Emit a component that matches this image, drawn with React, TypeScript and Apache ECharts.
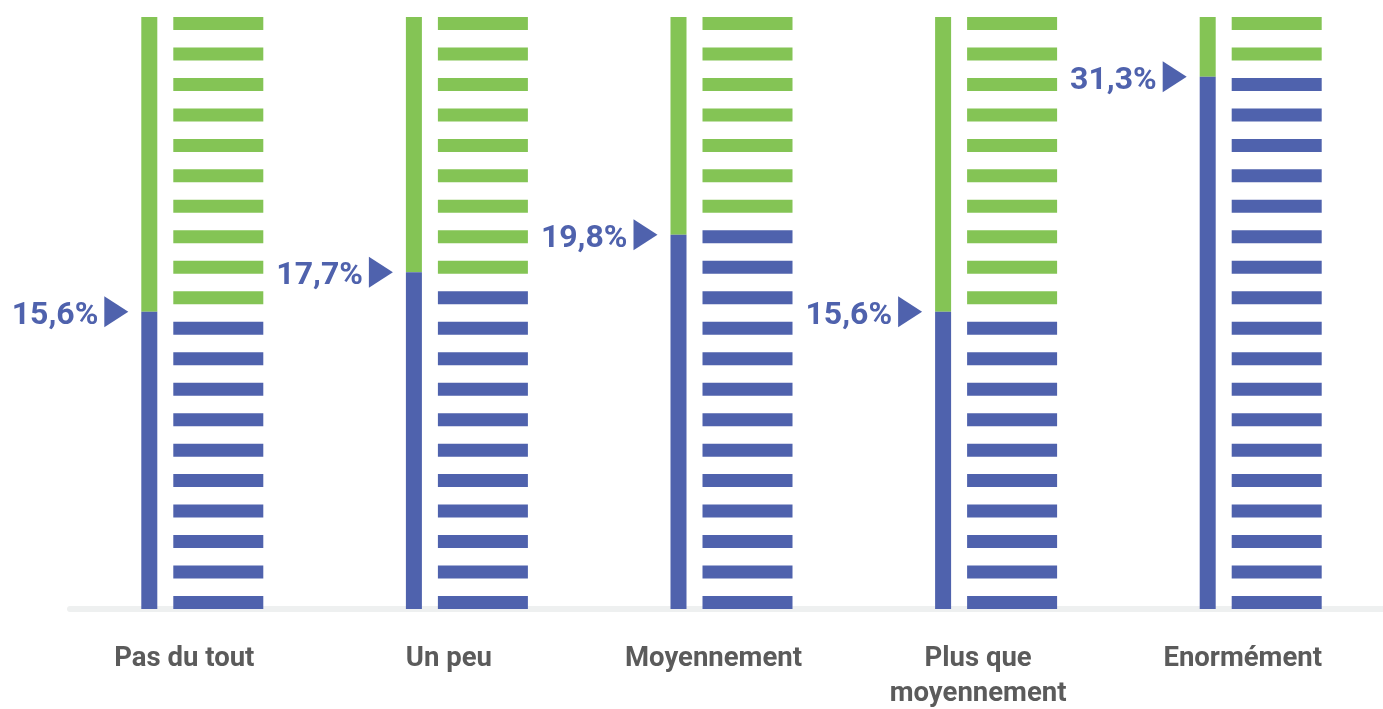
import { useEffect, useRef } from "react";
import * as echarts from "echarts";

const categories = ["Pas du tout", "Un peu", "Moyennement", "Plus que\nmoyennement", "Enormément"];
const percentLabels = ["15,6%", "17,7%", "19,8%", "15,6%", "31,3%"];
const values = [15.6, 17.7, 19.8, 15.6, 31.3];
// filled share of each column (% of column height)
const columnLevels = [50.2, 56.9, 63.2, 50.2, 89.9];
// number of blue dashes out of the 20 of each column
const blueDashes = [10, 11, 13, 10, 18];
const totalDashes = [20, 20, 20, 20, 20];

const BLUE = "#4f62ad";
const GREEN = "#84c455";

export default function App() {
  const ref = useRef<HTMLDivElement>(null);
  useEffect(() => {
    if (!ref.current) return;
    const chart = echarts.init(ref.current, null, { renderer: "svg" });
    const data = categories.map((_, i) => [i, columnLevels[i], blueDashes[i], totalDashes[i], values[i]]);
    chart.setOption({
      animation: false,
      grid: { left: 70, top: 17, width: 1323, bottom: 100, containLabel: false },
      xAxis: {
        type: "category",
        data: categories,
        offset: 4,
        axisLine: { show: true, lineStyle: { color: "#eef0f0", width: 6 } },
        axisTick: { show: false },
        axisLabel: {
          color: "#5b5b5b",
          fontWeight: "bold",
          fontSize: 27.5,
          fontFamily: "Roboto",
          margin: 26,
          lineHeight: 35,
          padding: [0, 36, 0, 0],
        },
        splitLine: { show: false },
      },
      yAxis: { type: "value", min: 0, max: 100, show: false },
      series: [
        {
          type: "custom",
          data,
          renderItem: (params: any, api: any) => {
            const idx = api.value(0);
            const level = api.value(1);
            const blue = api.value(2);
            const total = api.value(3);
            const base = api.coord([idx, 0]);
            const top = api.coord([idx, 100]);
            const lvl = api.coord([idx, level]);
            const barW = 16, gap = 16, dashW = 90, dashH = 13;
            const left = base[0] - (barW + gap + dashW) / 2;
            const children: any[] = [];
            children.push({ type: "rect", shape: { x: left, y: top[1], width: barW, height: lvl[1] - top[1] }, style: { fill: GREEN } });
            children.push({ type: "rect", shape: { x: left, y: lvl[1], width: barW, height: base[1] - lvl[1] }, style: { fill: BLUE } });
            const H = base[1] - top[1];
            const step = (H - dashH) / (total - 1);
            for (let k = 0; k < total; k++) {
              const y = base[1] - dashH - k * step;
              children.push({
                type: "rect",
                shape: { x: left + barW + gap, y, width: dashW, height: dashH },
                style: { fill: k < blue ? BLUE : GREEN },
              });
            }
            const tipX = left - 13;
            children.push({
              type: "polygon",
              shape: { points: [[tipX, lvl[1]], [tipX - 24, lvl[1] - 15.5], [tipX - 24, lvl[1] + 15.5]] },
              style: { fill: BLUE },
            });
            children.push({
              type: "text",
              style: {
                x: tipX - 30,
                y: lvl[1] + 1,
                text: percentLabels[idx],
                align: "right",
                verticalAlign: "middle",
                fill: BLUE,
                font: "bold 32px Roboto",
              },
            });
            return { type: "group", children };
          },
        },
      ],
    });
    return () => chart.dispose();
  }, []);
  return <div ref={ref} style={{ position: "fixed", left: 0, top: 0, width: 1400, height: 709 }} />;
}
